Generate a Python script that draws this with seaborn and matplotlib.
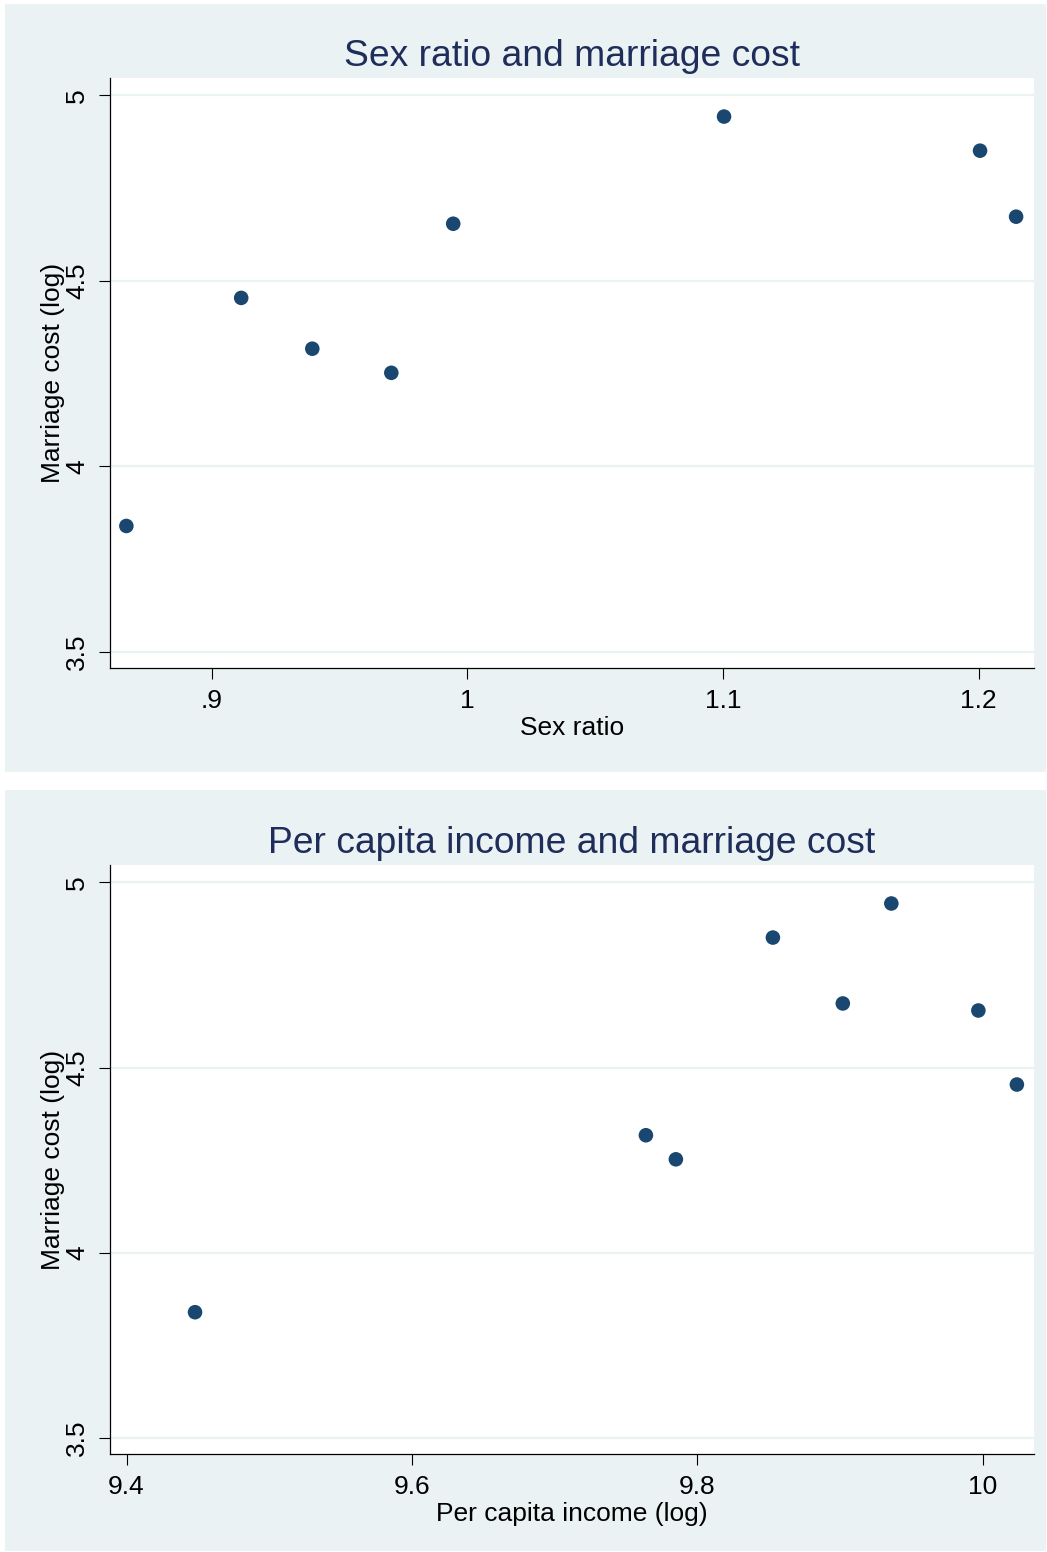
import matplotlib
matplotlib.use("Agg")
import matplotlib.pyplot as plt
from matplotlib.patches import Rectangle
import pandas as pd
import seaborn as sns

# values (one point per region)
sex_ratio = [0.8667, 0.9116, 0.9394, 0.9703, 0.9945, 1.1004, 1.2005, 1.2146]
income_log = [9.448, 10.024, 9.764, 9.785, 9.997, 9.936, 9.853, 9.902]
cost_log = [3.839, 4.454, 4.317, 4.252, 4.654, 4.943, 4.851, 4.673]

y_ticks = [3.5, 4.0, 4.5, 5.0]
y_labels = ["3.5", "4", "4.5", "5"]
sr_ticks = [0.9, 1.0, 1.1, 1.2]
sr_labels = [".9", "1", "1.1", "1.2"]
inc_ticks = [9.4, 9.6, 9.8, 10.0]
inc_labels = ["9.4", "9.6", "9.8", "10"]

df = pd.DataFrame({"sex_ratio": sex_ratio, "income": income_log, "cost": cost_log})

BG = "#EAF2F3"
NAVY = "#1A476F"
TITLE = "#1E2D5A"

sns.set_style("white")
plt.rcParams["font.family"] = ["Liberation Sans", "DejaVu Sans"]

W, H = 1047, 1552
fig = plt.figure(figsize=(W / 100, H / 100), dpi=100)


def box(x0, y0, x1, y1):
    return [x0 / W, 1 - y1 / H, (x1 - x0) / W, (y1 - y0) / H]


# light panel backgrounds behind each graph
for x0, y0, x1, y1 in [(5, 4, 1046, 772), (5, 790, 1046, 1551)]:
    fig.add_artist(Rectangle((x0 / W, 1 - y1 / H), (x1 - x0) / W, (y1 - y0) / H,
                             transform=fig.transFigure, facecolor=BG,
                             edgecolor="none", zorder=-10))


def panel(ax, xcol, xlim, xticks, xlabels, xlab, title):
    sns.scatterplot(data=df, x=xcol, y="cost", ax=ax, color=NAVY, s=110,
                    edgecolor="none", linewidth=0, zorder=3)
    ax.set_xlim(*xlim)
    ax.set_ylim(3.456, 5.047)
    ax.set_xticks(xticks)
    ax.set_xticklabels(xlabels)
    ax.set_yticks(y_ticks)
    ax.set_yticklabels(y_labels, rotation=90, va="center")
    ax.tick_params(axis="both", direction="out", length=8, width=0.8,
                   color="black", labelcolor="black", labelsize=19, pad=7,
                   left=True, bottom=True)
    ax.set_xlabel(xlab, fontsize=19, labelpad=2, color="black")
    ax.set_ylabel("Marriage cost (log)", fontsize=19, labelpad=0, color="black")
    ax.set_title(title, fontsize=26.8, color=TITLE, pad=8.5)
    ax.set_facecolor("white")
    ax.yaxis.grid(True, color=BG, linewidth=1.6)
    ax.xaxis.grid(False)
    ax.set_axisbelow(True)
    for side in ["top", "right"]:
        ax.spines[side].set_visible(False)
    for side in ["left", "bottom"]:
        ax.spines[side].set_color("black")
        ax.spines[side].set_linewidth(0.9)


ax1 = fig.add_axes(box(110, 78, 1034, 668))
panel(ax1, "sex_ratio", (0.8603, 1.2216), sr_ticks, sr_labels,
      "Sex ratio", "Sex ratio and marriage cost")

ax2 = fig.add_axes(box(110, 865, 1034, 1454))
panel(ax2, "income", (9.3884, 10.036), inc_ticks, inc_labels,
      "Per capita income (log)", "Per capita income and marriage cost")

fig.savefig("out.png", dpi=100, facecolor="white")
